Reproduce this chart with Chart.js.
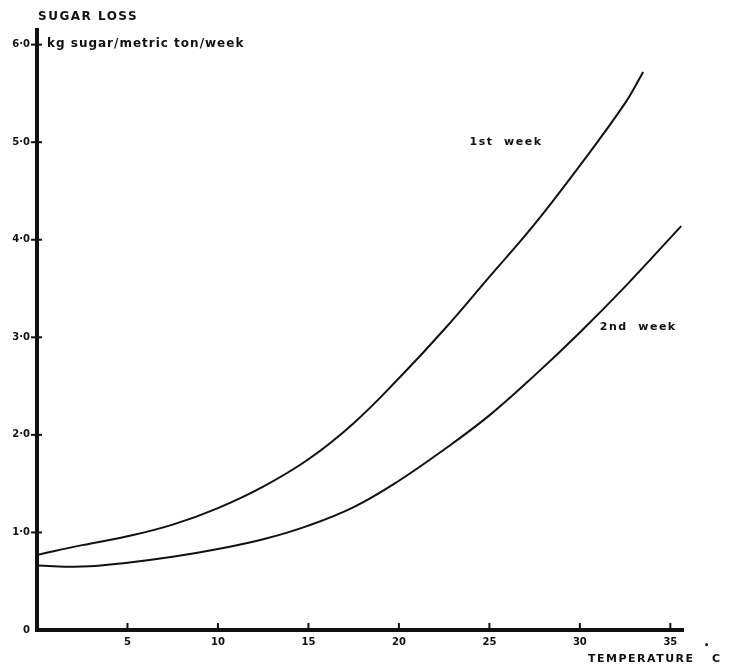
<!DOCTYPE html>
<html>
<head>
<meta charset="utf-8">
<script src="https://cdn.jsdelivr.net/npm/chart.js@4.4.1/dist/chart.umd.min.js"></script>
<style>
  body { margin: 0; background: #fff; }
  #wrap { width: 729px; height: 670px; position: relative; }
</style>
</head>
<body>
<div id="wrap"><canvas id="miGrafico"></canvas></div>
<script>
// temperatura (C) y perdida de azucar (kg/t/semana)
const temps1 = [0, 2.5, 5, 7.5, 10, 12.5, 15, 17.5, 20, 22.5, 25, 27.5, 30, 32.5, 33.5]
const week1 = [0.77, 0.87, 0.96, 1.08, 1.25, 1.47, 1.75, 2.12, 2.58, 3.08, 3.62, 4.16, 4.76, 5.4, 5.72]
const temps2 = [0, 2.5, 5, 7.5, 10, 12.5, 15, 17.5, 20, 22.5, 25, 27.5, 30, 32.5, 35.6]
const week2 = [0.66, 0.65, 0.69, 0.75, 0.83, 0.93, 1.07, 1.26, 1.53, 1.85, 2.2, 2.61, 3.05, 3.52, 4.14]
const xTicks = [5, 10, 15, 20, 25, 30, 35]
const yTicks = [1, 2, 3, 4, 5, 6]

const ink = '#111'
const toPoints = (xs, ys) => xs.map((x, i) => ({ x: x, y: ys[i] }))

const textos = {
  id: 'textos',
  afterDraw(chart) {
    const ctx = chart.ctx
    const xs = chart.scales.x
    const ys = chart.scales.y
    ctx.save()
    // marcas de los ejes
    ctx.strokeStyle = ink
    ctx.lineWidth = 2
    yTicks.forEach((v) => {
      const py = ys.getPixelForValue(v)
      ctx.beginPath()
      ctx.moveTo(xs.left - 6, py)
      ctx.lineTo(xs.left + 5, py)
      ctx.stroke()
    })
    xTicks.forEach((v) => {
      const px = xs.getPixelForValue(v)
      ctx.beginPath()
      ctx.moveTo(px, ys.bottom)
      ctx.lineTo(px, ys.bottom - 7)
      ctx.stroke()
    })
    ctx.fillStyle = ink
    ctx.textBaseline = 'middle'
    ctx.textAlign = 'left'
    ctx.letterSpacing = '1.5px'
    ctx.font = 'bold 12px "DejaVu Sans"'
    ctx.fillText('SUGAR LOSS', 38, 17)
    ctx.letterSpacing = '1px'
    ctx.fillText('kg sugar/metric ton/week', 47, 44)
    ctx.font = 'bold 11px "DejaVu Sans"'
    ctx.letterSpacing = '1.5px'
    ctx.fillText('1st  week', xs.getPixelForValue(23.9), ys.getPixelForValue(5.0))
    ctx.fillText('2nd  week', xs.getPixelForValue(31.1), ys.getPixelForValue(3.1))
    ctx.fillText('TEMPERATURE', 588, 659)
    ctx.fillText('C', 712, 659)
    ctx.font = 'bold 8px "DejaVu Sans"'
    ctx.fillText('\u2022', 704, 646)
    ctx.restore()
  },
}

const ctx = document.getElementById('miGrafico').getContext('2d')
const myChart = new Chart(ctx, {
  type: 'line',
  data: {
    datasets: [
      {
        label: '1st week',
        data: toPoints(temps1, week1),
        borderColor: ink,
        borderWidth: 2,
        pointRadius: 0,
        tension: 0.4,
        clip: false,
      },
      {
        label: '2nd week',
        data: toPoints(temps2, week2),
        borderColor: ink,
        borderWidth: 2,
        pointRadius: 0,
        tension: 0.4,
        clip: false,
      },
    ],
  },
  options: {
    responsive: true,
    maintainAspectRatio: false,
    animation: false,
    layout: { padding: { top: 30, right: 46, left: 0, bottom: 0 } },
    plugins: { legend: { display: false }, tooltip: { enabled: false } },
    scales: {
      x: {
        type: 'linear',
        min: 0,
        max: 35.7,
        grid: { display: false, drawTicks: false },
        border: { display: true, width: 4, color: ink },
        afterFit: (scale) => { scale.height = 40 },
        ticks: {
          stepSize: 5,
          includeBounds: false,
          autoSkip: false,
          maxRotation: 0,
          padding: 6,
          color: ink,
          font: { family: 'DejaVu Sans', size: 10, weight: 'bold' },
          callback: (v) => (xTicks.includes(v) ? String(v) : ''),
        },
      },
      y: {
        min: 0,
        max: 6.15,
        grid: { display: false, drawTicks: false },
        border: { display: true, width: 4, color: ink },
        afterFit: (scale) => { scale.width = 37 },
        ticks: {
          stepSize: 1,
          includeBounds: false,
          padding: 7,
          color: ink,
          font: { family: 'DejaVu Sans', size: 10, weight: 'bold' },
          callback: (v) => (v === 0 ? '0' : yTicks.includes(v) ? v.toFixed(1).replace('.', '\u00b7') : ''),
        },
      },
    },
  },
  plugins: [textos],
})
</script>
</body>
</html>
